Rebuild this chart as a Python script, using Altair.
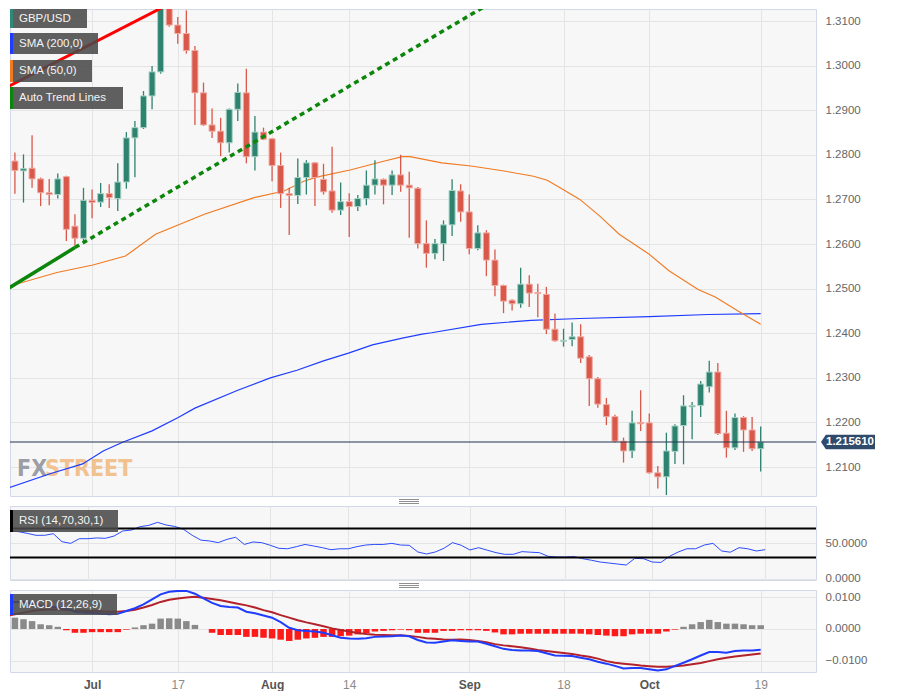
import altair as alt
import pandas as pd

# ---------------- data ----------------
dates = pd.bdate_range("2023-06-19", "2023-10-19")   # daily sessions shown
first_offset = -10                                     # Jun 19 is 10 sessions before Jul 3

opens = [1.2820, 1.2786, 1.2764, 1.2770, 1.2746, 1.2715, 1.2711, 1.2751, 1.2640, 1.2613,
         1.2698, 1.2694, 1.2713, 1.2702, 1.2739, 1.2838, 1.2861, 1.2932, 1.2986, 1.3131,
         1.3091, 1.3072, 1.3034, 1.2939, 1.2867, 1.2853, 1.2827, 1.2902, 1.2939, 1.2796,
         1.2851, 1.2836, 1.2776, 1.2713, 1.2709, 1.2749, 1.2782, 1.2745, 1.2719, 1.2676,
         1.2695, 1.2684, 1.2702, 1.2732, 1.2745, 1.2732, 1.2755, 1.2732, 1.2725, 1.2601,
         1.2579, 1.2601, 1.2643, 1.2719, 1.2672, 1.2590, 1.2625, 1.2564, 1.2507, 1.2474,
         1.2466, 1.2510, 1.2491, 1.2487, 1.2409, 1.2382, 1.2386, 1.2392, 1.2347, 1.2298,
         1.2240, 1.2213, 1.2158, 1.2136, 1.2200, 1.2199, 1.2087, 1.2078, 1.2135, 1.2193,
         1.2235, 1.2238, 1.2280, 1.2313, 1.2176, 1.2143, 1.2211, 1.2183, 1.2141]
highs = [1.2831, 1.2805, 1.2801, 1.2844, 1.2749, 1.2746, 1.2758, 1.2753, 1.2667, 1.2726,
         1.2722, 1.2737, 1.2734, 1.2781, 1.2851, 1.2876, 1.2943, 1.2999, 1.3141, 1.3141,
         1.3109, 1.3124, 1.3044, 1.2962, 1.2904, 1.2883, 1.2904, 1.2960, 1.2993, 1.2887,
         1.2861, 1.2838, 1.2805, 1.2726, 1.2792, 1.2788, 1.2784, 1.2780, 1.2818, 1.2738,
         1.2714, 1.2710, 1.2765, 1.2788, 1.2747, 1.2765, 1.2800, 1.2762, 1.2728, 1.2653,
         1.2611, 1.2653, 1.2745, 1.2734, 1.2711, 1.2642, 1.2631, 1.2588, 1.2509, 1.2476,
         1.2547, 1.2530, 1.2511, 1.2504, 1.2444, 1.2410, 1.2424, 1.2420, 1.2351, 1.2302,
         1.2255, 1.2217, 1.2166, 1.2226, 1.2272, 1.2220, 1.2102, 1.2177, 1.2196, 1.2261,
         1.2246, 1.2293, 1.2338, 1.2333, 1.2226, 1.2220, 1.2214, 1.2212, 1.2191]
lows = [1.2779, 1.2713, 1.2693, 1.2726, 1.2685, 1.2687, 1.2702, 1.2607, 1.2596, 1.2603,
        1.2658, 1.2683, 1.2681, 1.2674, 1.2724, 1.2750, 1.2858, 1.2902, 1.2982, 1.3087,
        1.3049, 1.3027, 1.2867, 1.2865, 1.2838, 1.2797, 1.2805, 1.2876, 1.2781, 1.2765,
        1.2833, 1.2741, 1.2681, 1.2620, 1.2690, 1.2711, 1.2685, 1.2711, 1.2670, 1.2665,
        1.2616, 1.2674, 1.2687, 1.2711, 1.2689, 1.2710, 1.2717, 1.2614, 1.2590, 1.2547,
        1.2566, 1.2562, 1.2618, 1.2650, 1.2577, 1.2586, 1.2528, 1.2483, 1.2445, 1.2451,
        1.2457, 1.2459, 1.2436, 1.2398, 1.2381, 1.2370, 1.2371, 1.2333, 1.2237, 1.2233,
        1.2194, 1.2155, 1.2110, 1.2120, 1.2181, 1.2085, 1.2052, 1.2037, 1.2107, 1.2106,
        1.2162, 1.2212, 1.2267, 1.2172, 1.2121, 1.2138, 1.2134, 1.2136, 1.2090]
closes = [1.2790, 1.2765, 1.2769, 1.2746, 1.2715, 1.2711, 1.2746, 1.2633, 1.2613, 1.2698,
          1.2693, 1.2713, 1.2704, 1.2739, 1.2838, 1.2861, 1.2932, 1.2986, 1.3134, 1.3091,
          1.3072, 1.3034, 1.2939, 1.2867, 1.2853, 1.2827, 1.2902, 1.2940, 1.2796, 1.2851,
          1.2835, 1.2776, 1.2713, 1.2709, 1.2749, 1.2782, 1.2749, 1.2717, 1.2676, 1.2695,
          1.2684, 1.2702, 1.2732, 1.2746, 1.2732, 1.2755, 1.2732, 1.2726, 1.2601, 1.2579,
          1.2601, 1.2643, 1.2720, 1.2672, 1.2590, 1.2625, 1.2564, 1.2507, 1.2472, 1.2466,
          1.2510, 1.2490, 1.2489, 1.2409, 1.2383, 1.2384, 1.2392, 1.2344, 1.2298, 1.2241,
          1.2213, 1.2158, 1.2136, 1.2199, 1.2197, 1.2087, 1.2078, 1.2136, 1.2192, 1.2237,
          1.2238, 1.2286, 1.2313, 1.2175, 1.2143, 1.2211, 1.2183, 1.2141, 1.21561]

rsi = [67.6, 66.8, 65.7, 63.4, 60.7, 60.7, 62.9, 51.8, 49.5, 56.0,
       56.0, 57.0, 56.5, 59.7, 66.7, 68.0, 72.7, 74.5, 78.7, 75.0,
       73.0, 69.0, 60.7, 54.0, 52.8, 50.5, 55.0, 58.0, 48.0, 51.4,
       50.5, 46.8, 42.6, 42.0, 44.9, 48.0, 45.8, 43.5, 40.7, 42.0,
       42.0, 45.0, 47.2, 48.0, 48.0, 49.5, 47.2, 46.8, 37.5, 34.7,
       37.5, 42.6, 50.5, 46.8, 40.3, 43.5, 40.0, 36.6, 34.3, 34.3,
       38.0, 37.2, 36.6, 31.5, 30.5, 30.5, 31.0, 28.2, 26.0, 23.6,
       22.2, 20.8, 19.4, 28.7, 28.2, 23.6, 23.0, 31.5, 37.5, 42.0,
       42.0, 47.2, 49.5, 38.9, 37.2, 43.5, 42.0, 38.9, 40.7]

macd = [0.0080, 0.0086, 0.0086, 0.0080, 0.0075, 0.0071, 0.0068, 0.0066, 0.0055, 0.0052,
        0.0051, 0.0049, 0.0047, 0.0048, 0.0057, 0.0066, 0.0078, 0.0094, 0.0110, 0.0118,
        0.0121, 0.0121, 0.0112, 0.0097, 0.0083, 0.0073, 0.0070, 0.0068, 0.0055, 0.0050,
        0.0043, 0.0036, 0.0022, 0.0004, -0.0004, -0.0006, -0.0008, -0.0012, -0.0020, -0.0028,
        -0.0030, -0.0031, -0.0029, -0.0025, -0.0024, -0.0023, -0.0021, -0.0023, -0.0035, -0.0043,
        -0.0044, -0.0040, -0.0036, -0.0038, -0.0040, -0.0040, -0.0047, -0.0055, -0.0063, -0.0067,
        -0.0068, -0.0068, -0.0070, -0.0077, -0.0084, -0.0085, -0.0086, -0.0091, -0.0096, -0.0104,
        -0.0110, -0.0117, -0.0125, -0.0124, -0.0124, -0.0128, -0.0132, -0.0128, -0.0117, -0.0107,
        -0.0096, -0.0084, -0.0073, -0.0073, -0.0075, -0.0070, -0.0068, -0.0068, -0.0066]
signal = [0.0041, 0.0047, 0.0052, 0.0057, 0.0060, 0.0062, 0.0062, 0.0060, 0.0059, 0.0058,
          0.0057, 0.0056, 0.0055, 0.0055, 0.0057, 0.0061, 0.0068, 0.0076, 0.0086, 0.0093,
          0.0097, 0.0100, 0.0102, 0.0099, 0.0095, 0.0091, 0.0086, 0.0080, 0.0075, 0.0068,
          0.0060, 0.0053, 0.0044, 0.0036, 0.0028, 0.0021, 0.0015, 0.0009, 0.0002, -0.0003,
          -0.0008, -0.0013, -0.0016, -0.0018, -0.0019, -0.0020, -0.0020, -0.0022, -0.0025, -0.0029,
          -0.0031, -0.0033, -0.0034, -0.0033, -0.0035, -0.0038, -0.0042, -0.0048, -0.0052, -0.0055,
          -0.0058, -0.0062, -0.0067, -0.0070, -0.0073, -0.0076, -0.0079, -0.0084, -0.0088, -0.0094,
          -0.0102, -0.0107, -0.0110, -0.0113, -0.0116, -0.0118, -0.0120, -0.0120, -0.0118, -0.0116,
          -0.0112, -0.0108, -0.0102, -0.0096, -0.0091, -0.0087, -0.0084, -0.0081, -0.0078]
hist = [0.0036, 0.0036, 0.0031, 0.0025, 0.0015, 0.0012, 0.0007, -0.0004, -0.0012, -0.0012,
        -0.0010, -0.0010, -0.0010, -0.0010, -0.0002, 0.0005, 0.0012, 0.0017, 0.0033, 0.0034,
        0.0033, 0.0025, 0.0013, 0.0000, -0.0012, -0.0019, -0.0019, -0.0019, -0.0025, -0.0025,
        -0.0028, -0.0030, -0.0034, -0.0038, -0.0034, -0.0030, -0.0028, -0.0025, -0.0025, -0.0023,
        -0.0021, -0.0017, -0.0013, -0.0008, -0.0006, -0.0004, -0.0002, -0.0004, -0.0012, -0.0012,
        -0.0012, -0.0006, -0.0006, -0.0004, -0.0004, -0.0004, -0.0006, -0.0011, -0.0017, -0.0017,
        -0.0015, -0.0015, -0.0015, -0.0015, -0.0015, -0.0015, -0.0015, -0.0015, -0.0017, -0.0019,
        -0.0021, -0.0023, -0.0023, -0.0017, -0.0015, -0.0015, -0.0015, -0.0008, -0.0002, 0.0007,
        0.0015, 0.0022, 0.0029, 0.0022, 0.0017, 0.0017, 0.0015, 0.0012, 0.0012]

# moving averages, read at points along the curves (session index, price)
sma50_idx = [-9.9, -4.1, 0.1, 3.9, 7.4, 13.1, 18.9, 22.4, 24.7, 26.2, 30.1, 33.9, 36.2, 37.1,
             40.8, 44.2, 47.7, 51.5, 53.1, 54.6, 56.9, 59.2, 61.5, 65.0, 67.3, 70.7, 72.7, 75.7, 78.0]
sma50 = [1.2504, 1.2536, 1.2553, 1.2573, 1.2622, 1.2667, 1.2704, 1.2719, 1.2741, 1.2750, 1.2766,
         1.2785, 1.2796, 1.2796, 1.2782, 1.2775, 1.2765, 1.2752, 1.2743, 1.2726, 1.2700, 1.2663,
         1.2622, 1.2577, 1.2540, 1.2498, 1.2481, 1.2446, 1.2420]
sma200_idx = [-9.9, -4.9, -1.1, 1.3, 3.5, 7.0, 10.05, 12.0, 17.0, 20.8, 23.9, 27.0, 30.0, 32.7,
              36.2, 38.5, 39.6, 45.4, 51.2, 56.9, 65.0, 71.9, 78.0]
sma200 = [1.2052, 1.2085, 1.2107, 1.2136, 1.2155, 1.2181, 1.2211, 1.2232, 1.2272, 1.2300, 1.2317,
          1.2338, 1.2356, 1.2374, 1.2389, 1.2398, 1.2401, 1.2420, 1.2429, 1.2433, 1.2437, 1.2442, 1.2444]

# auto trend lines (end points)
red_line_idx, red_line = [-9.9, 9.68], [1.2952, 1.3145]
green_solid_idx, green_solid = [-9.9, -2.0], [1.2499, 1.2592]
green_dot_idx, green_dot = [-2.0, 46.9], [1.2592, 1.3145]

tick_dates = ["2023-07-03", "2023-07-17", "2023-08-01", "2023-08-14",
              "2023-09-01", "2023-09-18", "2023-10-02", "2023-10-19"]
tick_labels = ["Jul", "17", "Aug", "14", "Sep", "18", "Oct", "19"]
last_price = 1.215610

# ---------------- frames ----------------
idx = [i + first_offset for i in range(len(dates))]
df = pd.DataFrame({"idx": idx, "date": dates, "open": opens, "high": highs, "low": lows,
                   "close": closes, "rsi": rsi, "macd": macd, "signal": signal, "hist": hist})
date_list = list(dates)
tick_idx = [date_list.index(pd.Timestamp(d)) + first_offset for d in tick_dates]
month_idx = [t for t, l in zip(tick_idx, tick_labels) if not l.isdigit()]

sma50_df = pd.DataFrame({"idx": sma50_idx, "v": sma50})
sma200_df = pd.DataFrame({"idx": sma200_idx, "v": sma200})
red_df = pd.DataFrame({"idx": red_line_idx, "v": red_line})
gs_df = pd.DataFrame({"idx": green_solid_idx, "v": green_solid})
gd_df = pd.DataFrame({"idx": green_dot_idx, "v": green_dot})
price_df = pd.DataFrame({"p": [last_price]})
dummy = pd.DataFrame({"a": [0]})

W = 806
H_MAIN, H_RSI, H_MACD = 487, 74, 82
FONT = "Liberation Sans"
UP, DOWN = "#2e8270", "#d8584a"
UP_EDGE, DOWN_EDGE = "#a7d2c4", "#f0aaa2"

xscale = alt.Scale(domain=[-8.99, 83.87], nice=False, zero=False)
x_axis_hidden = alt.Axis(values=tick_idx, labels=False, ticks=False, domain=False,
                         grid=True, title=None)
label_expr = " : ".join(f"datum.value == {t} ? '{l}'" for t, l in zip(tick_idx, tick_labels)) + " : ''"
month_test = "indexof(" + str(month_idx) + ", datum.value) >= 0"
x_axis_bottom = alt.Axis(values=tick_idx, labelExpr=label_expr, ticks=False, domain=False,
                         grid=True, title=None, labelPadding=7, labelFontSize=12,
                         labelFlush=False, labelOverlap=False,
                         labelFontWeight={"condition": {"test": month_test, "value": "bold"},
                                          "value": "normal"},
                         labelColor={"condition": {"test": month_test, "value": "#555555"},
                                     "value": "#8a8a8a"})


def X(field, axis):
    return alt.X(field, type="quantitative", scale=xscale, axis=axis)


def right_axis(values):
    return alt.Axis(orient="right", values=values, format=".4f", ticks=False, domain=False,
                    grid=True, labelPadding=9, labelFontSize=11.5, labelColor="#666666",
                    labelFlush=False, labelOverlap=False, title=None)


yscale_main = alt.Scale(domain=[1.2035, 1.3127], nice=False, zero=False)
yaxis_main = right_axis([1.21, 1.22, 1.23, 1.24, 1.25, 1.26, 1.27, 1.28, 1.29, 1.30, 1.31])


def YM(field):
    return alt.Y(field, type="quantitative", scale=yscale_main, axis=yaxis_main)


def box(x1, x2, y1, y2, color, opacity=1.0):
    return alt.Chart(dummy).mark_rect(color=color, opacity=opacity).encode(
        x=alt.value(x1), x2=alt.value(x2), y=alt.value(y1), y2=alt.value(y2))


def label(text, x, y, color="#f4f4f4", size=11.5, weight="normal", align="left", font=FONT, baseline="middle"):
    return alt.Chart(dummy).mark_text(text=text, align=align, baseline=baseline, color=color,
                                      fontSize=size, fontWeight=weight, font=font).encode(
        x=alt.value(x), y=alt.value(y))


def hline(x1, x2, y, color="#8f8f8f", width=1):
    return alt.Chart(dummy).mark_rule(color=color, strokeWidth=width).encode(
        x=alt.value(x1), x2=alt.value(x2), y=alt.value(y))


cond_fill = alt.condition("datum.close >= datum.open", alt.value(UP), alt.value(DOWN))
cond_edge = alt.condition("datum.close >= datum.open", alt.value(UP_EDGE), alt.value(DOWN_EDGE))

# ---------------- main price panel ----------------
WM_FONT = "Liberation Sans Narrow, DejaVu Sans Condensed, sans-serif"
wm_fx = label("FX", 7, 467, color="#9c9ea6", size=23, weight="bold", align="left",
              font=WM_FONT, baseline="alphabetic")
wm_st = label("STREET", 35, 467, color="#f1c28f", size=23, weight="bold", align="left",
              font=WM_FONT, baseline="alphabetic")

sma200_line = alt.Chart(sma200_df).mark_line(color="#1f3cff", strokeWidth=1.2, clip=True).encode(
    x=X("idx", x_axis_hidden), y=YM("v"))
sma50_line = alt.Chart(sma50_df).mark_line(color="#f07a22", strokeWidth=1.1, clip=True).encode(
    x=X("idx", x_axis_hidden), y=YM("v"))

wicks = alt.Chart(df).mark_rule(strokeWidth=1.3, clip=True).encode(
    x=X("idx", x_axis_hidden), y=YM("low"), y2="high:Q", stroke=cond_fill)
bodies = alt.Chart(df).mark_bar(size=6, strokeWidth=1, clip=True).encode(
    x=X("idx", x_axis_hidden), y=YM("open"), y2="close:Q", fill=cond_fill, stroke=cond_edge)

red_tl = alt.Chart(red_df).mark_line(color="#ff0000", strokeWidth=3, clip=True).encode(
    x=X("idx", x_axis_hidden), y=YM("v"))
gs_tl = alt.Chart(gs_df).mark_line(color="#0b860b", strokeWidth=3.5, clip=True).encode(
    x=X("idx", x_axis_hidden), y=YM("v"))
gd_tl = alt.Chart(gd_df).mark_line(color="#0b860b", strokeWidth=3.5, strokeDash=[5, 4], clip=True).encode(
    x=X("idx", x_axis_hidden), y=YM("v"))

price_rule = alt.Chart(price_df).mark_rule(color="#24344f", strokeWidth=1.2).encode(y=YM("p"))
tag_path = "M-1,0 L-0.82,-0.272 L1,-0.272 L1,0.272 L-0.82,0.272 Z"
price_tag = alt.Chart(price_df).mark_point(shape=tag_path, size=2916, filled=True, fill="#2f4a6b",
                                           opacity=1, strokeWidth=0).encode(
    x=alt.value(838), y=YM("p"))
price_txt = alt.Chart(price_df).mark_text(color="white", fontWeight="bold", fontSize=11.5,
                                          align="center", baseline="middle", font=FONT).encode(
    x=alt.value(840), y=YM("p"), text=alt.Text("p:Q", format=".6f"))

legend_layers = []
for (txt, bar_color, x2, y1, y2) in [("GBP/USD", "#2e8a78", 77, 0, 19),
                                     ("SMA (200,0)", "#1f3cff", 88, 24, 45),
                                     ("SMA (50,0)", "#f07a22", 82, 51, 73),
                                     ("Auto Trend Lines", "#0b860b", 113, 78, 100)]:
    legend_layers += [box(0, x2, y1, y2, "#4a4a4a", 0.88), box(0, 3, y1, y2, bar_color),
                      label(txt, 9, (y1 + y2) / 2)]

main = alt.layer(wm_fx, wm_st, sma200_line, sma50_line, wicks, bodies, red_tl, gs_tl, gd_tl,
                 price_rule, *legend_layers, price_tag, price_txt).properties(width=W, height=H_MAIN)

# ---------------- RSI panel ----------------
rsi_scale = alt.Scale(domain=[-1.4, 101.4], nice=False, zero=False)
rsi_axis = right_axis([0, 50])
rsi_line = alt.Chart(df).mark_line(color="#2b4bff", strokeWidth=1, clip=True).encode(
    x=X("idx", x_axis_hidden), y=alt.Y("rsi:Q", scale=rsi_scale, axis=rsi_axis))
rsi_levels = alt.Chart(pd.DataFrame({"lvl": [70, 30]})).mark_rule(color="black", strokeWidth=2).encode(
    y=alt.Y("lvl:Q", scale=rsi_scale, axis=rsi_axis))
rsi_panel = alt.layer(
    rsi_line, rsi_levels,
    box(0, 108, 4, 26, "#4a4a4a", 0.88), box(0, 3, 4, 26, "#000000"),
    label("RSI (14,70,30,1)", 9, 15),
    hline(389, 409, -6.5), hline(389, 409, -4.5), hline(389, 409, -2.5),
).properties(width=W, height=H_RSI)

# ---------------- MACD panel ----------------
macd_scale = alt.Scale(domain=[-0.01365, 0.01238], nice=False, zero=False)
macd_axis = right_axis([-0.01, 0.0, 0.01])


def YD(field):
    return alt.Y(field, type="quantitative", scale=macd_scale, axis=macd_axis)


hist_bars = alt.Chart(df).mark_bar(size=6.5, clip=True).encode(
    x=X("idx", x_axis_bottom), y=YD("hist"), y2=alt.datum(0),
    color=alt.condition("datum.hist >= 0", alt.value("#8a8a8a"), alt.value("#ff1a1a")))
macd_line = alt.Chart(df).mark_line(color="#1f3cff", strokeWidth=2, clip=True).encode(
    x=X("idx", x_axis_bottom), y=YD("macd"))
signal_line = alt.Chart(df).mark_line(color="#b3222a", strokeWidth=2, clip=True).encode(
    x=X("idx", x_axis_bottom), y=YD("signal"))
macd_panel = alt.layer(
    hist_bars, signal_line, macd_line,
    box(0, 107, 4, 25, "#4a4a4a", 0.88), box(0, 3, 4, 25, "#1f3cff"),
    label("MACD (12,26,9)", 9, 14.5),
    hline(389, 409, -6.5), hline(389, 409, -4.5), hline(389, 409, -2.5),
).properties(width=W, height=H_MACD)

chart = alt.vconcat(main, rsi_panel, macd_panel, spacing=10, bounds="flush").properties(
    padding=0, background="white"
).configure(font=FONT).configure_view(
    fill="#f7f7f7", stroke="#d2d8e8", strokeWidth=1
).configure_axis(gridColor="#e4e4e4", gridWidth=1, labelFont=FONT)

chart.save("out.html", embed_options={"renderer": "svg", "actions": False})
